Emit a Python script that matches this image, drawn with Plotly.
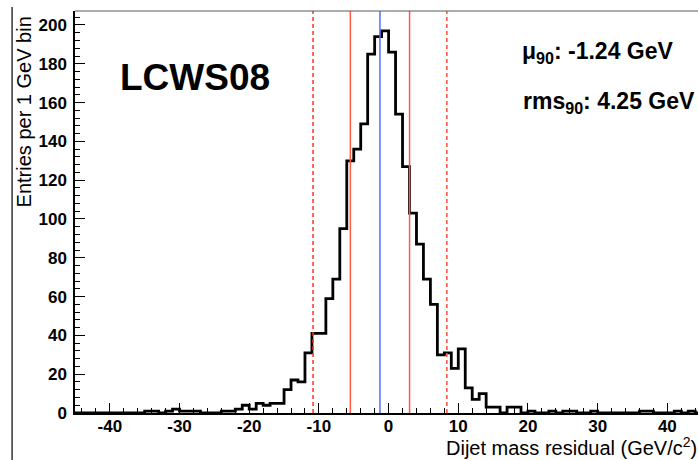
import plotly.graph_objects as go

# ---- data ----
bin_low = list(range(-45, 45))  # 1 GeV bins, lower edges
counts = [
    0, 0, 0, 0, 0, 0, 0, 0, 0, 0,          # -45 .. -36
    1, 1, 0, 1, 2, 1, 1, 1, 0, 0,          # -35 .. -26
    0, 1, 1, 2, 4, 2, 5, 4, 5, 5,          # -25 .. -16
    12, 17, 16, 31, 41, 41, 59, 69, 95, 130,   # -15 .. -6
    136, 149, 185, 194, 197, 186, 154, 127, 103, 87,  # -5 .. 4
    69, 56, 30, 31, 23, 33, 13, 7, 10, 3,   # 5 .. 14
    3, 0, 3, 3, 0, 1, 0, 0, 1, 0,           # 15 .. 24
    1, 1, 0, 0, 1, 0, 0, 0, 0, 0,           # 25 .. 34
    0, 1, 1, 0, 0, 0, 1, 0, 1, 0,           # 35 .. 44
]
mu90 = -1.24
rms90 = 4.25
window_lo = -10.84
window_hi = 8.36
x_ticks = [-40, -30, -20, -10, 0, 10, 20, 30, 40]
y_ticks = [0, 20, 40, 60, 80, 100, 120, 140, 160, 180, 200]

edges = bin_low + [bin_low[-1] + 1]
ys = counts + [counts[-1]]

X0, X1 = -45, 44.4
Y0, Y1 = 0, 207.2

fig = go.Figure()
fig.add_trace(go.Scatter(x=edges, y=ys, mode="lines", line_shape="hv",
                         line=dict(color="black", width=2.8), hoverinfo="skip",
                         showlegend=False))

shapes = []
for xv, col, dash in [(window_lo, "rgb(255,50,30)", "dash"),
                      (window_hi, "rgb(255,80,60)", "dash"),
                      (mu90 - rms90, "rgb(255,90,70)", "solid"),
                      (mu90 + rms90, "rgb(255,90,70)", "solid"),
                      (mu90, "rgb(80,110,255)", "solid")]:
    shapes.append(dict(type="line", xref="x", yref="y", x0=xv, x1=xv, y0=Y0, y1=Y1,
                       line=dict(color=col, width=1.5, dash=dash if dash == "solid" else "4px,3px"),
                       layer="above"))
# top frame line
shapes.append(dict(type="line", xref="paper", yref="paper", x0=0, x1=1, y0=1, y1=1,
                   line=dict(color="rgb(90,90,90)", width=1.2)))
# left border line of the picture
shapes.append(dict(type="line", xref="paper", yref="paper", x0=-0.101, x1=-0.101,
                   y0=-0.2, y1=1.01, line=dict(color="black", width=1.2)))

tickfont = dict(family="Liberation Sans, Arial, sans-serif", size=17, color="black")

fig.update_layout(
    width=698, height=460,
    margin=dict(l=75, r=0, t=11, b=47),
    paper_bgcolor="white", plot_bgcolor="white",
    shapes=shapes,
    font=dict(family="Liberation Sans, Arial, sans-serif", color="black"),
    xaxis=dict(range=[X0, X1], tickvals=x_ticks, ticktext=[f"<b>{v}</b>" for v in x_ticks],
               ticks="inside", ticklen=10, tickwidth=1.2, tickcolor="black",
               minor=dict(dtick=2, ticks="inside", ticklen=5, tickwidth=1.2, tickcolor="black"),
               showgrid=False, zeroline=False, showline=True, linecolor="black", linewidth=2,
               tickfont=tickfont, ticklabelstandoff=-3),
    yaxis=dict(range=[Y0, Y1], tickvals=y_ticks, ticktext=[f"<b>{v}</b>" for v in y_ticks],
               ticks="inside", ticklen=10, tickwidth=1.2, tickcolor="black",
               minor=dict(dtick=4, ticks="inside", ticklen=5, tickwidth=1.2, tickcolor="black"),
               showgrid=False, zeroline=False, showline=True, linecolor="black", linewidth=1.5,
               tickfont=tickfont, ticklabelstandoff=3),
    annotations=[
        dict(text="<b>LCWS08</b>", x=-27.8, y=172.7, xref="x", yref="y", showarrow=False,
             font=dict(size=37, color="black")),
        dict(text="<b>\u03bc<sub>90</sub>: -1.24 GeV</b>", x=18.8, y=185.6, xref="x", yref="y",
             xanchor="left", showarrow=False, font=dict(size=23, color="black")),
        dict(text="<b>rms<sub>90</sub>: 4.25 GeV</b>", x=19.0, y=159.8, xref="x", yref="y",
             xanchor="left", showarrow=False, font=dict(size=23, color="black")),
        dict(text="Entries per 1 GeV bin", x=-0.082, y=0.75, xref="paper", yref="paper",
             xanchor="center", yanchor="middle",
             textangle=-90, showarrow=False, font=dict(size=20, color="black")),
        dict(text="Dijet mass residual (GeV/c<sup>2</sup>)", x=0.592, y=-0.083, xref="paper",
             yref="paper", xanchor="left", yanchor="middle", showarrow=False,
             font=dict(size=20, color="black")),
    ],
)

fig.write_html("out.html")
